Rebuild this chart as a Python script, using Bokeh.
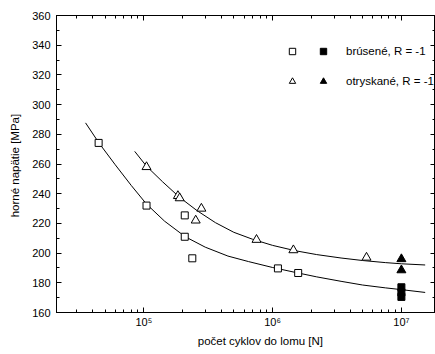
from bokeh.plotting import figure
from bokeh.models import (LogAxis, LinearAxis, LogTicker, SingleIntervalTicker, Range1d,
                          CustomJSTickFormatter, Legend, LegendItem)
from bokeh.embed import file_html
from bokeh.resources import INLINE

FONT = "Liberation Sans"

# ---- data ----
x_tick_values = [1e5, 1e6, 1e7]
x_tick_labels = ["10⁵", "10⁶", "10⁷"]

bru_open_N = [4.46e4, 1.05e5, 2.08e5, 2.08e5, 2.38e5, 1.10e6, 1.58e6]
bru_open_S = [274.2, 232.0, 225.4, 211.0, 196.5, 189.7, 186.6]
bru_fill_N = [1e7, 1e7, 1e7]
bru_fill_S = [177.0, 173.5, 170.5]

otr_open_N = [1.05e5, 1.84e5, 1.90e5, 2.53e5, 2.80e5, 7.5e5, 1.45e6, 5.36e6]
otr_open_S = [258.0, 238.5, 237.0, 222.0, 230.0, 209.0, 202.0, 197.0]
otr_fill_N = [1e7, 1e7]
otr_fill_S = [196.0, 188.5]

bru_fit_N = [3.53e4, 4.5e4, 6e4, 8e4, 1.05e5, 1.45e5, 2.1e5, 3e5, 4.5e5, 6.5e5,
             1e6, 1.5e6, 2.2e6, 3.4e6, 5e6, 7.5e6, 1e7, 1.53e7]
bru_fit_S = [287.7, 274.0, 259.5, 245.5, 233.0, 221.5, 211.0, 204.0, 198.0, 194.3,
             190.3, 187.0, 184.0, 181.0, 178.5, 176.6, 175.4, 173.5]
otr_fit_N = [8.5e4, 1.05e5, 1.4e5, 1.9e5, 2.6e5, 3.6e5, 5e5, 7e5, 1e6, 1.5e6,
             2.2e6, 3.4e6, 5e6, 7.5e6, 1e7, 1.53e7]
otr_fit_S = [268.5, 258.5, 248.0, 237.5, 228.5, 220.5, 214.0, 209.3, 205.2, 201.6,
             199.0, 196.7, 195.0, 193.6, 192.8, 192.0]

legend_labels = ["brúsené, R = -1", "otryskané, R = -1"]
x_label = "\u00a0" * 10 + "počet cyklov do lomu  [N]"
y_label = "horné napätie  [MPa]"

# ---- figure ----
p = figure(width=435, height=354, x_axis_type="log",
           x_range=Range1d(2.1e4, 1.84e7), y_range=Range1d(160, 360),
           output_backend="svg", toolbar_location=None,
           min_border_left=56, min_border_right=0, min_border_top=15, min_border_bottom=42)
p.xgrid.visible = False
p.ygrid.visible = False
p.outline_line_color = "black"
p.background_fill_color = "white"
p.border_fill_color = "white"

# fitted curves
p.line(bru_fit_N, bru_fit_S, line_color="black", line_width=1)
p.line(otr_fit_N, otr_fit_S, line_color="black", line_width=1)

r_bo = p.scatter(bru_open_N, bru_open_S, marker="square", size=7,
                 fill_color="white", line_color="black", line_width=1)
r_bf = p.scatter(bru_fill_N, bru_fill_S, marker="square", size=7,
                 fill_color="black", line_color="black", line_width=1)
r_to = p.scatter(otr_open_N, otr_open_S, marker="triangle", size=9,
                 fill_color="white", line_color="black", line_width=1)
r_tf = p.scatter(otr_fill_N, otr_fill_S, marker="triangle", size=9,
                 fill_color="black", line_color="black", line_width=1)

# ---- axes ----
fmt = CustomJSTickFormatter(args=dict(vals=x_tick_values, labs=x_tick_labels), code="""
for (let i = 0; i < vals.length; i++) {
  if (Math.abs(Math.log10(tick) - Math.log10(vals[i])) < 1e-6) { return labs[i]; }
}
return "";
""")
blank = CustomJSTickFormatter(code="return '';")

xb = p.below[0]
xb.ticker = LogTicker(num_minor_ticks=10)
xb.formatter = fmt
yl = p.left[0]
yl.ticker = SingleIntervalTicker(interval=20, num_minor_ticks=2)

xt = LogAxis(ticker=LogTicker(num_minor_ticks=10), formatter=blank)
yr = LinearAxis(ticker=SingleIntervalTicker(interval=20, num_minor_ticks=2), formatter=blank)
p.add_layout(xt, "above")
p.add_layout(yr, "right")

for ax in (xb, yl, xt, yr):
    ax.axis_line_color = "black"
    ax.major_tick_line_color = "black"
    ax.minor_tick_line_color = "black"
    ax.major_tick_in = 5
    ax.major_tick_out = 0
    ax.minor_tick_in = 3
    ax.minor_tick_out = 0
    ax.major_label_text_font = FONT
    ax.major_label_text_font_size = "11px"
    ax.major_label_text_color = "black"

for ax in (xt, yr):
    ax.major_label_text_font_size = "0px"
    ax.major_label_standoff = 0

xb.major_label_standoff = 3
xb.axis_label = x_label
xb.axis_label_text_font = FONT
xb.axis_label_text_font_size = "11.5px"
xb.axis_label_text_font_style = "normal"
xb.axis_label_text_color = "black"
xb.axis_label_standoff = 4

yl.major_label_standoff = 6
yl.axis_label = y_label
yl.axis_label_text_font = FONT
yl.axis_label_text_font_size = "11.5px"
yl.axis_label_text_font_style = "normal"
yl.axis_label_text_color = "black"
yl.axis_label_standoff = 8

# ---- legend: open markers column + filled markers column with labels ----
def style_legend(lg, standoff):
    lg.padding = 0
    lg.margin = 0
    lg.spacing = 10
    lg.glyph_width = 16
    lg.glyph_height = 20
    lg.label_height = 20
    lg.label_standoff = standoff
    lg.background_fill_alpha = 0
    lg.border_line_alpha = 0
    lg.label_text_font = FONT
    lg.label_text_font_size = "11.5px"
    lg.label_text_color = "black"

leg_open = Legend(items=[LegendItem(label=" ", renderers=[r_bo]),
                         LegendItem(label=" ", renderers=[r_to])],
                  location=(228, 221))
leg_fill = Legend(items=[LegendItem(label=legend_labels[0], renderers=[r_bf]),
                         LegendItem(label=legend_labels[1], renderers=[r_tf])],
                  location=(259, 221))
style_legend(leg_open, 10)
style_legend(leg_fill, 15)
p.add_layout(leg_open, "center")
p.add_layout(leg_fill, "center")

open("out.html", "w").write(file_html(p, INLINE))
